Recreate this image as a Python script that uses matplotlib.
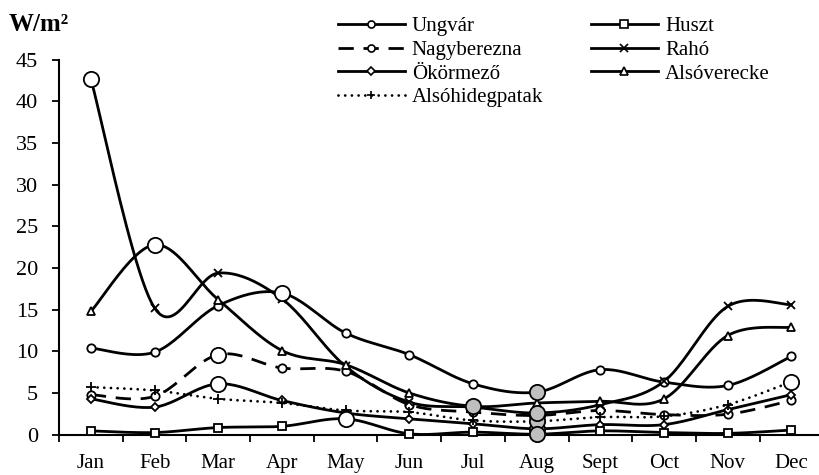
import numpy as np
import matplotlib.pyplot as plt
from matplotlib.lines import Line2D

plt.rcParams['font.family'] = ['Liberation Serif', 'DejaVu Serif']

months = ["Jan", "Feb", "Mar", "Apr", "May", "Jun",
          "Jul", "Aug", "Sept", "Oct", "Nov", "Dec"]

# monthly values, W/m2
ungvar = [10.4, 9.9, 15.5, 17.0, 12.2, 9.6, 6.1, 5.1, 7.8, 6.3, 5.9, 9.4]
nagyberezna = [4.8, 4.6, 9.6, 8.0, 7.6, 3.6, 2.7, 2.3, 2.9, 2.4, 2.45, 4.1]
okormezo = [4.3, 3.3, 6.1, 4.1, 2.6, 1.9, 1.3, 0.7, 1.2, 1.2, 3.0, 4.8]
alsohidegpatak = [5.7, 5.3, 4.3, 3.8, 2.9, 2.7, 1.7, 1.6, 2.1, 2.2, 3.6, 6.35]
huszt = [0.45, 0.25, 0.85, 1.0, 1.9, 0.1, 0.3, 0.05, 0.45, 0.25, 0.15, 0.55]
raho = [42.7, 15.2, 19.4, 16.3, 8.2, 3.9, 3.3, 2.6, 3.6, 6.4, 15.4, 15.6]
alsoverecke = [14.8, 22.8, 16.2, 10.1, 8.4, 5.0, 3.4, 3.8, 4.0, 4.3, 11.9, 12.9]

series = [
    ("Ungvár", ungvar, "-", "o", 6),
    ("Nagyberezna", nagyberezna, (0, (5.5, 3.5)), "o", 6),
    ("Ökörmező", okormezo, "-", "D", 4.5),
    ("Alsóhidegpatak", alsohidegpatak, (0, (0.01, 2.4)), "+", 7),
    ("Huszt", huszt, "-", "s", 6),
    ("Rahó", raho, "-", "x", 6),
    ("Alsóverecke", alsoverecke, "-", "^", 6),
]


def smooth(y, steps=24):
    # Catmull-Rom style bezier through the points, like spreadsheet smoothed lines
    pts = np.column_stack([np.arange(len(y)), np.asarray(y, float)])
    pad = np.vstack([pts[0], pts, pts[-1]])
    t = np.linspace(0, 1, steps)[:, None]
    out = []
    for i in range(len(pts) - 1):
        p0, p1, p2, p3 = pad[i], pad[i + 1], pad[i + 2], pad[i + 3]
        c1 = p1 + (p2 - p0) / 6
        c2 = p2 - (p3 - p1) / 6
        seg = ((1 - t) ** 3 * p1 + 3 * (1 - t) ** 2 * t * c1
               + 3 * (1 - t) * t ** 2 * c2 + t ** 3 * p2)
        out.append(seg if i == 0 else seg[1:])
    out = np.vstack(out)
    return out[:, 0], out[:, 1]


def capstyle(ls):
    # round caps turn the dotted pattern into dots
    return "round" if ls == (0, (0.01, 2.4)) else "butt"


fig = plt.figure(figsize=(8.2, 4.75), dpi=100)
ax = fig.add_axes([0.072, 0.085, 0.932, 0.789])

x = np.arange(len(months))
handles = []
for name, vals, ls, mk, ms in series:
    sx, sy = smooth(vals)
    ax.plot(sx, sy, color="black", lw=2.0, ls=ls, zorder=2,
            dash_capstyle=capstyle(ls), solid_capstyle="round")
    ax.plot(x, vals, ls="none", marker=mk, ms=ms, mfc="white", mec="black",
            mew=1.3, zorder=3)
    handles.append(Line2D([0, 1, 2], [0, 0, 0], color="black", lw=2.0, ls=ls,
                          dash_capstyle=capstyle(ls),
                          marker=mk, ms=ms * 0.85, mfc="white", mec="black",
                          mew=1.2, markevery=[1], label=name))

# highest month of each station in white, lowest in grey
for name, vals, ls, mk, ms in series:
    i_max = int(np.argmax(vals))
    i_min = int(np.argmin(vals))
    ax.plot(i_max, vals[i_max], "o", ms=11, mfc="white", mec="black",
            mew=1.3, zorder=4)
    ax.plot(i_min, vals[i_min], "o", ms=11, mfc="#bfbfbf", mec="black",
            mew=1.3, zorder=4)

ax.set_xlim(-0.5, 11.5)
ax.set_ylim(0, 45)
ax.set_yticks(np.arange(0, 46, 5))
ax.set_xticks(x)
ax.set_xticklabels(months)
ax.set_xticks(np.arange(-0.5, 12, 1), minor=True)
ax.tick_params(axis="x", which="major", length=0, pad=14, labelsize=15)
ax.tick_params(axis="x", which="minor", length=5, width=1.3, direction="out")
ax.tick_params(axis="y", length=5, width=1.3, pad=10, labelsize=16)
for s in ["top", "right"]:
    ax.spines[s].set_visible(False)
for s in ["left", "bottom"]:
    ax.spines[s].set_linewidth(1.5)
for ln in ax.lines:
    ln.set_clip_on(False)

fig.text(0.01, 0.935, "W/m²", fontsize=18, fontweight="bold")

fig.legend(handles=handles, ncol=2, loc="upper left",
           bbox_to_anchor=(0.412, 0.965), frameon=False, fontsize=15,
           handlelength=3.2, handletextpad=0.35, columnspacing=2.3,
           labelspacing=0.2, borderpad=0, borderaxespad=0)

fig.savefig("out.png", dpi=100)
